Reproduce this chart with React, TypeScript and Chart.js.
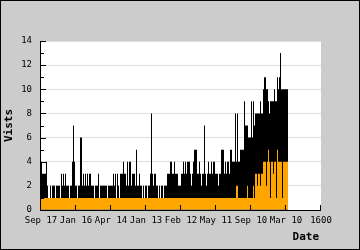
import React, { useEffect, useRef } from "react";
import { Chart, registerables } from "chart.js";

Chart.register(...registerables);

// x-axis tick labels (one every 35 days)
const xTickLabels = ["Sep 17", "Jan 16", "Apr 14", "Jan 13", "Feb 12", "May 11", "Sep 10", "Mar 10", "1600"];
const DAYS_PER_TICK = 35;
const Y_MAX = 14;
const Y_STEP = 2;

// total visits per day
const visits = [
  4, 3, 3, 3, 3, 4, 2, 1, 1, 2,
  1, 2, 2, 2, 1, 2, 2, 2, 2, 1,
  3, 2, 3, 2, 3, 2, 2, 2, 1, 2,
  2, 4, 7, 4, 2, 2, 1, 2, 2, 6,
  6, 2, 3, 2, 3, 2, 3, 2, 3, 3,
  2, 2, 2, 1, 2, 2, 2, 3, 1, 2,
  2, 2, 2, 2, 2, 2, 1, 2, 2, 2,
  2, 2, 3, 2, 3, 1, 3, 2, 1, 3,
  3, 3, 4, 3, 3, 2, 4, 2, 4, 4,
  2, 3, 3, 3, 2, 5, 2, 2, 3, 2,
  2, 1, 2, 1, 2, 2, 1, 2, 2, 3,
  8, 3, 2, 3, 3, 2, 2, 1, 2, 1,
  2, 2, 1, 2, 2, 2, 3, 3, 3, 4,
  4, 3, 3, 4, 3, 3, 3, 2, 2, 2,
  3, 3, 4, 3, 4, 3, 4, 4, 4, 3,
  2, 3, 4, 5, 5, 5, 3, 3, 4, 3,
  2, 3, 3, 7, 3, 2, 3, 4, 3, 3,
  4, 3, 4, 4, 3, 3, 3, 2, 3, 3,
  5, 5, 5, 3, 4, 3, 4, 4, 3, 5,
  5, 4, 4, 4, 8, 4, 8, 4, 4, 5,
  5, 5, 5, 9, 7, 7, 7, 6, 6, 6,
  9, 6, 9, 7, 8, 8, 8, 8, 8, 9,
  8, 8, 10, 11, 11, 10, 10, 9, 8, 9,
  9, 9, 9, 10, 9, 9, 11, 10, 11, 13,
  10, 10, 10, 10, 10, 10, 10,
];

// unique visitors per day
const uniqueVisits = [
  1, 1, 1, 1, 1, 1, 1, 1, 1, 1,
  1, 1, 1, 1, 1, 1, 1, 1, 1, 1,
  1, 1, 1, 1, 1, 1, 1, 1, 1, 1,
  1, 1, 1, 1, 1, 1, 1, 1, 1, 1,
  1, 1, 1, 1, 1, 1, 1, 1, 1, 1,
  1, 1, 1, 1, 1, 1, 1, 1, 1, 1,
  1, 1, 1, 1, 1, 1, 1, 1, 1, 1,
  1, 1, 1, 1, 1, 1, 1, 1, 1, 1,
  1, 1, 1, 1, 1, 1, 1, 1, 1, 1,
  1, 1, 1, 1, 1, 1, 1, 1, 1, 1,
  1, 1, 1, 1, 1, 1, 1, 1, 1, 1,
  1, 1, 1, 1, 1, 1, 1, 1, 1, 1,
  1, 1, 1, 1, 1, 1, 1, 1, 1, 1,
  1, 1, 1, 1, 1, 1, 1, 1, 1, 1,
  1, 1, 1, 1, 1, 1, 1, 1, 1, 1,
  1, 1, 1, 1, 1, 1, 1, 1, 1, 1,
  1, 1, 1, 1, 1, 1, 1, 1, 1, 1,
  1, 1, 1, 1, 1, 1, 1, 1, 1, 1,
  1, 1, 1, 1, 1, 1, 1, 1, 1, 1,
  1, 1, 1, 1, 1, 2, 2, 1, 1, 1,
  1, 1, 1, 1, 1, 1, 2, 1, 1, 1,
  1, 1, 2, 1, 3, 3, 2, 3, 3, 2,
  3, 3, 4, 4, 4, 2, 4, 5, 4, 1,
  4, 4, 3, 4, 4, 1, 5, 4, 4, 4,
  4, 1, 4, 4, 4, 4, 4,
];

const MONO = "'DejaVu Sans Mono', monospace";

export default function App() {
  const ref = useRef<HTMLCanvasElement>(null);

  useEffect(() => {
    document.body.style.margin = "0";
    const canvas = ref.current;
    if (!canvas) return;

    const decor = {
      id: "decor",
      beforeDraw(chart: any) {
        const { ctx, chartArea: a } = chart;
        ctx.save();
        ctx.fillStyle = "#cccccc";
        ctx.fillRect(0, 0, chart.width, chart.height);
        ctx.fillStyle = "#ffffff";
        ctx.fillRect(a.left, a.top, a.right - a.left, a.bottom - a.top);
        ctx.strokeStyle = "#000000";
        ctx.lineWidth = 1;
        ctx.strokeRect(0.5, 0.5, chart.width - 1, chart.height - 1);
        ctx.restore();
      },
      afterDatasetsDraw(chart: any) {
        const { ctx, chartArea: a, scales } = chart;
        const ys = scales.y;
        const xs = scales.x;
        ctx.save();
        ctx.strokeStyle = "#000000";
        ctx.lineWidth = 1;
        ctx.beginPath();
        ctx.moveTo(a.left - 0.5, a.top);
        ctx.lineTo(a.left - 0.5, a.bottom + 1);
        ctx.moveTo(a.left - 1, a.bottom + 0.5);
        ctx.lineTo(a.right, a.bottom + 0.5);
        for (let v = 0; v <= Y_MAX; v++) {
          const py = Math.round(ys.getPixelForValue(v)) + 0.5;
          ctx.moveTo(a.left - 1, py);
          ctx.lineTo(a.left + (v % Y_STEP === 0 ? 5 : 3), py);
        }
        for (let k = 0; k < xTickLabels.length; k++) {
          const px = Math.round(xs.getPixelForValue(k * DAYS_PER_TICK)) - 0.5;
          ctx.moveTo(px, a.bottom);
          ctx.lineTo(px, a.bottom - 5);
        }
        ctx.stroke();
        ctx.restore();
      },
      afterDraw(chart: any) {
        const { ctx, chartArea: a } = chart;
        ctx.save();
        ctx.fillStyle = "#000000";
        ctx.font = `bold 11px ${MONO}`;
        ctx.textAlign = "right";
        ctx.textBaseline = "alphabetic";
        ctx.fillText("Date", a.right - 2, 240);
        ctx.translate(9, (a.top + a.bottom) / 2);
        ctx.rotate(-Math.PI / 2);
        ctx.textAlign = "center";
        ctx.textBaseline = "middle";
        ctx.fillText("Vists", 0, 0);
        ctx.restore();
      },
    };

    const common = {
      grouped: false,
      barPercentage: 1,
      categoryPercentage: 1,
      borderWidth: 0,
      inflateAmount: 0,
    };

    const chart = new Chart(canvas, {
      type: "bar",
      data: {
        datasets: [
          {
            label: "Unique",
            data: uniqueVisits.map((v, i) => ({ x: i + 0.5, y: v })),
            backgroundColor: "#ffa500",
            order: 0,
            ...common,
          } as any,
          {
            label: "Visits",
            data: visits.map((v, i) => ({ x: i + 0.5, y: v })),
            backgroundColor: "#000000",
            order: 1,
            ...common,
          } as any,
        ],
      },
      options: {
        responsive: false,
        animation: false,
        devicePixelRatio: 1,
        layout: { padding: { top: 41, right: 39, left: 0, bottom: 0 } },
        plugins: { legend: { display: false }, tooltip: { enabled: false } },
        scales: {
          x: {
            type: "linear",
            offset: false,
            min: 0,
            max: DAYS_PER_TICK * (xTickLabels.length - 1),
            grid: { display: false, drawTicks: false, offset: false },
            border: { display: false },
            ticks: {
              stepSize: DAYS_PER_TICK,
              autoSkip: false,
              maxRotation: 0,
              padding: 5,
              color: "#000000",
              font: { family: MONO, size: 9 },
              callback: (v: any) => xTickLabels[Math.round(Number(v) / DAYS_PER_TICK)] ?? "",
            },
            afterFit: (s: any) => {
              s.height = 40;
              s.paddingLeft = 0;
              s.paddingRight = 0;
            },
          },
          y: {
            min: 0,
            max: Y_MAX,
            grid: { color: "#dddddd", drawTicks: false, lineWidth: 1 },
            border: { display: false },
            ticks: {
              stepSize: Y_STEP,
              padding: 9,
              color: "#000000",
              font: { family: MONO, size: 9 },
            },
            afterFit: (s: any) => {
              s.width = 41;
              s.paddingTop = 0;
              s.paddingBottom = 0;
            },
          },
        },
      } as any,
      plugins: [decor],
    });

    return () => chart.destroy();
  }, []);

  return (
    <div style={{ width: 360, height: 250 }}>
      <canvas ref={ref} width={360} height={250} style={{ display: "block" }} />
    </div>
  );
}
